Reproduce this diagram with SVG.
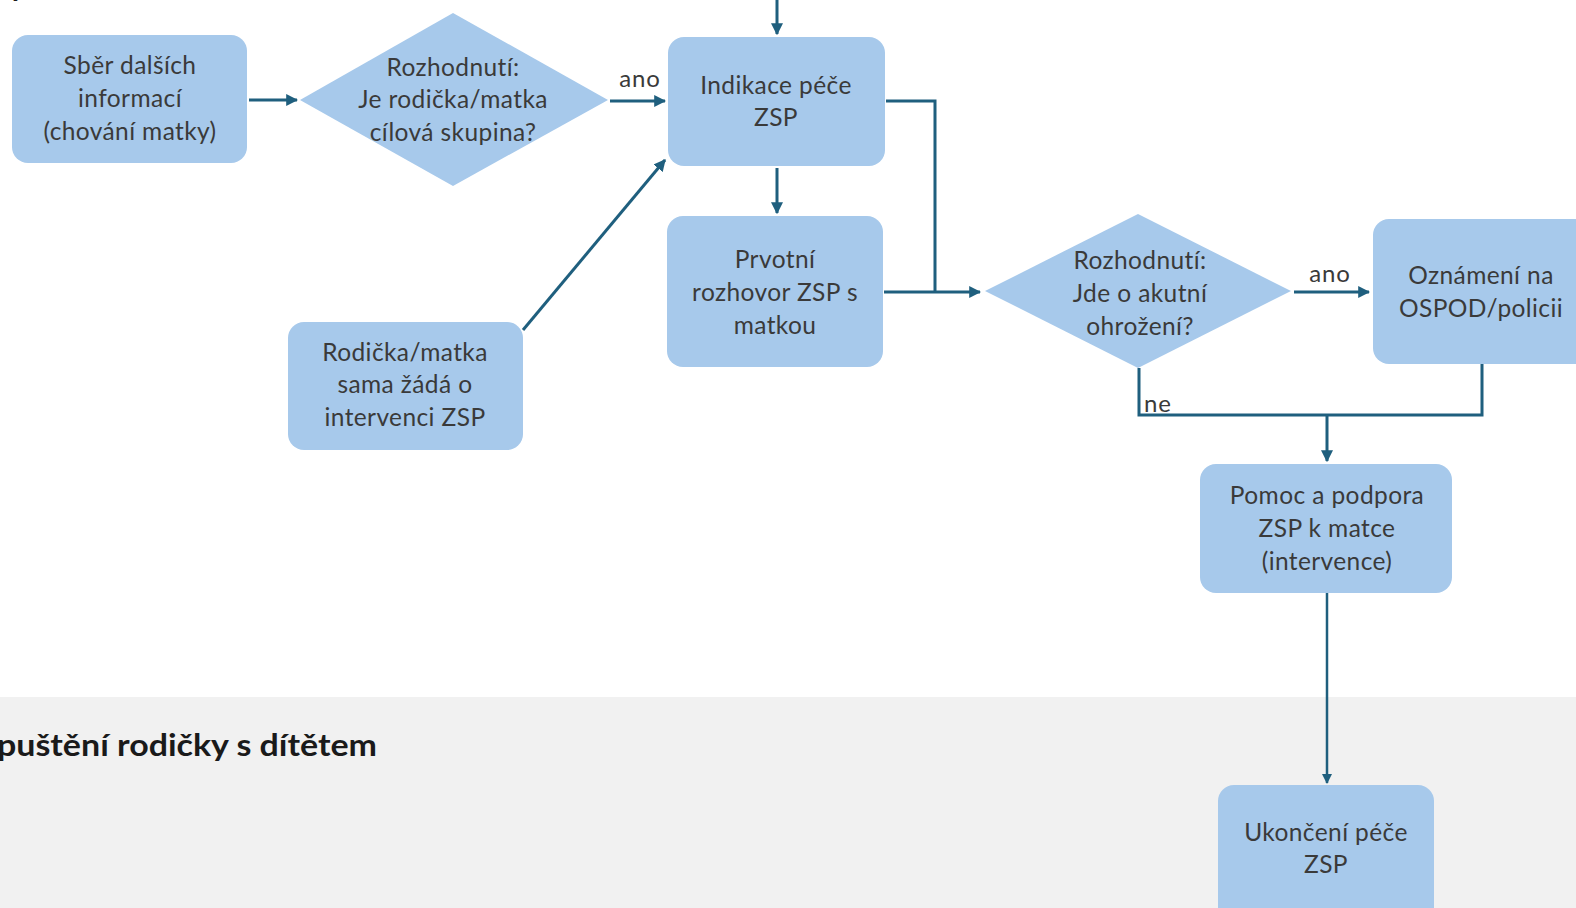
<svg xmlns="http://www.w3.org/2000/svg" width="1576" height="908" viewBox="0 0 1576 908">
<style>
.node{fill:#a7c9eb;}
.t{font-family:Lato,"Liberation Sans",sans-serif;font-size:24.5px;letter-spacing:0.4px;fill:#3a3a3a;text-anchor:middle;}
.lbl{font-family:Lato,"Liberation Sans",sans-serif;font-size:24px;letter-spacing:0.8px;fill:#3a3a3a;}
.c{fill:none;stroke:#1f5f7e;stroke-width:3;}
.title{font-family:Lato,"Liberation Sans",sans-serif;font-size:30px;font-weight:bold;fill:#1a1a1a;}
</style>
<defs>
<marker id="ah" viewBox="0 0 10 10" refX="9" refY="5" markerWidth="4" markerHeight="4" orient="auto" markerUnits="strokeWidth">
<path d="M0,0 L10,5 L0,10 z" fill="#1f5f7e"/>
</marker>
</defs>
<rect x="0" y="0" width="1576" height="908" fill="#ffffff"/>
<rect x="0" y="697" width="1576" height="211" fill="#f1f1f1"/>
<text class="title" x="10" y="-4">y</text>
<text class="title" x="377" y="756" text-anchor="end" textLength="380" lengthAdjust="spacingAndGlyphs">puštění rodičky s dítětem</text>

<g id="connectors">
<line class="c" x1="777" y1="0" x2="777" y2="34" marker-end="url(#ah)"/>
<line class="c" x1="249" y1="100" x2="297" y2="100" marker-end="url(#ah)"/>
<line class="c" x1="610" y1="101" x2="665" y2="101" marker-end="url(#ah)"/>
<line class="c" x1="777" y1="168" x2="777" y2="213" marker-end="url(#ah)"/>
<line class="c" x1="523" y1="330" x2="665" y2="160" marker-end="url(#ah)"/>
<polyline class="c" points="886,101 935,101 935,292"/>
<line class="c" x1="884" y1="292" x2="980" y2="292" marker-end="url(#ah)"/>
<line class="c" x1="1294" y1="292" x2="1369" y2="292" marker-end="url(#ah)"/>
<polyline class="c" points="1139,368 1139,415 1482,415 1482,364"/>
<line class="c" x1="1327" y1="415" x2="1327" y2="461" marker-end="url(#ah)"/>
<line class="c" x1="1327" y1="593" x2="1327" y2="783" marker-end="url(#ah)" style="stroke-width:2.5"/>
<text class="lbl" x="640" y="87" text-anchor="middle">ano</text>
<text class="lbl" x="1330" y="282" text-anchor="middle">ano</text>
<text class="lbl" x="1144" y="412">ne</text>
</g>

<g id="sber">
<rect class="node" x="12" y="35" width="235" height="128" rx="16"/>
<text class="t" x="130" y="74">Sběr dalších</text>
<text class="t" x="130" y="107">informací</text>
<text class="t" x="130" y="140">(chování matky)</text>
</g>

<g id="rozhodnuti1">
<polygon class="node" points="453,13 608,100 453,186 300,100"/>
<text class="t" x="453" y="76">Rozhodnutí:</text>
<text class="t" x="453" y="108">Je rodička/matka</text>
<text class="t" x="453" y="141">cílová skupina?</text>
</g>

<g id="indikace">
<rect class="node" x="668" y="37" width="217" height="129" rx="16"/>
<text class="t" x="776" y="94">Indikace péče</text>
<text class="t" x="776" y="126">ZSP</text>
</g>

<g id="prvotni">
<rect class="node" x="667" y="216" width="216" height="151" rx="16"/>
<text class="t" x="775" y="268">Prvotní</text>
<text class="t" x="775" y="301">rozhovor ZSP s</text>
<text class="t" x="775" y="334">matkou</text>
</g>

<g id="rodicka">
<rect class="node" x="288" y="322" width="235" height="128" rx="16"/>
<text class="t" x="405" y="361">Rodička/matka</text>
<text class="t" x="405" y="393">sama žádá o</text>
<text class="t" x="405" y="426">intervenci ZSP</text>
</g>

<g id="rozhodnuti2">
<polygon class="node" points="1138,214 1291,291 1138,368 985,291"/>
<text class="t" x="1140" y="269">Rozhodnutí:</text>
<text class="t" x="1140" y="302">Jde o akutní</text>
<text class="t" x="1140" y="335">ohrožení?</text>
</g>

<g id="oznameni">
<rect class="node" x="1373" y="219" width="230" height="145" rx="16"/>
<text class="t" x="1481" y="284">Oznámení na</text>
<text class="t" x="1481" y="317">OSPOD/policii</text>
</g>

<g id="pomoc">
<rect class="node" x="1200" y="464" width="252" height="129" rx="16"/>
<text class="t" x="1327" y="504">Pomoc a podpora</text>
<text class="t" x="1327" y="537">ZSP k matce</text>
<text class="t" x="1327" y="570">(intervence)</text>
</g>

<g id="ukonceni">
<rect class="node" x="1218" y="785" width="216" height="140" rx="16"/>
<text class="t" x="1326" y="841">Ukončení péče</text>
<text class="t" x="1326" y="873">ZSP</text>
</g>
</svg>
